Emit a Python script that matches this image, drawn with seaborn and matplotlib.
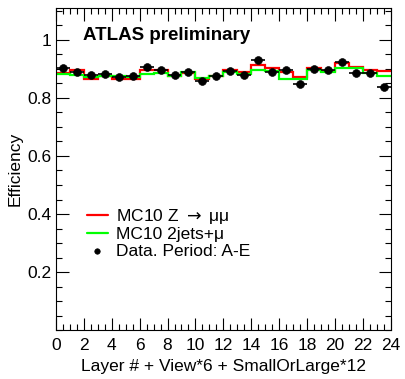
import numpy as np
import pandas as pd
import seaborn as sns
import matplotlib.pyplot as plt
from matplotlib.ticker import MultipleLocator

# bin index = Layer # + View*6 + SmallOrLarge*12
bins = np.arange(25)
mc_zmumu = [0.885, 0.895, 0.866, 0.876, 0.866, 0.866,
            0.895, 0.897, 0.876, 0.885, 0.866, 0.877,
            0.897, 0.888, 0.914, 0.903, 0.888, 0.871,
            0.904, 0.893, 0.921, 0.908, 0.895, 0.893]
mc_2jets = [0.883, 0.879, 0.871, 0.876, 0.876, 0.871,
            0.883, 0.885, 0.874, 0.890, 0.868, 0.877,
            0.890, 0.882, 0.897, 0.894, 0.864, 0.866,
            0.895, 0.890, 0.902, 0.902, 0.885, 0.877]
data_eff = [0.902, 0.891, 0.879, 0.883, 0.871, 0.876,
            0.905, 0.895, 0.879, 0.888, 0.859, 0.877,
            0.893, 0.879, 0.929, 0.888, 0.895, 0.848,
            0.900, 0.895, 0.923, 0.887, 0.885, 0.836]
data_err = [0.004] * 24

sns.set_style("ticks", {'axes.edgecolor': 'black', 'xtick.color': 'black',
                        'ytick.color': 'black', 'text.color': 'black',
                        'axes.labelcolor': 'black'})
plt.rcParams['font.family'] = ['Liberation Sans', 'DejaVu Sans']

fig = plt.figure(figsize=(4.05, 3.79), dpi=100)
ax = fig.add_axes([0.138, 0.129, 0.827, 0.850])

ax.stairs(mc_zmumu, bins, baseline=None, color='#ff0000', lw=1.6,
          label='MC10 Z $\\rightarrow$ \u03bc\u03bc')
ax.stairs(mc_2jets, bins, baseline=None, color='#00ff00', lw=1.6,
          label='MC10 2jets+\u03bc')

df = pd.DataFrame({'x': bins[:-1] + 0.5, 'eff': data_eff})
ax.errorbar(df['x'], df['eff'], xerr=0.5, yerr=data_err, fmt='none', ecolor='black', lw=1.2)
sns.scatterplot(data=df, x='x', y='eff', color='black', s=32, edgecolor='black',
                ax=ax, label='Data. Period: A-E', zorder=5)

ax.set_xlim(0, 24)
ax.set_ylim(0, 1.11)
ax.xaxis.set_major_locator(MultipleLocator(2))
ax.xaxis.set_minor_locator(MultipleLocator(0.5))
ax.yaxis.set_minor_locator(MultipleLocator(0.05))
ax.set_yticks([0.2, 0.4, 0.6, 0.8, 1.0])
ax.set_yticklabels(['0.2', '0.4', '0.6', '0.8', '1'])
ax.tick_params(which='both', direction='in', top=True, right=True, labelsize=12.5)
ax.tick_params(axis='x', pad=6)
ax.tick_params(which='major', length=9, width=0.8)
ax.tick_params(which='minor', length=4.5, width=0.8)
for s in ax.spines.values():
    s.set_linewidth(0.8)

ax.set_xlabel('Layer # + View*6 + SmallOrLarge*12', fontsize=12.5, labelpad=4)
ax.set_ylabel('Efficiency', fontsize=12.5, labelpad=3)

ax.text(0.08, 0.915, 'ATLAS preliminary', transform=ax.transAxes,
        fontsize=13.5, fontweight='bold', va='center')

leg = ax.legend(loc='upper left', bbox_to_anchor=(0.072, 0.405), frameon=False,
                fontsize=12.5, handlelength=1.2, handletextpad=0.5, labelspacing=0.08,
                borderaxespad=0, markerscale=0.7)

fig.savefig('out.png', dpi=100)
